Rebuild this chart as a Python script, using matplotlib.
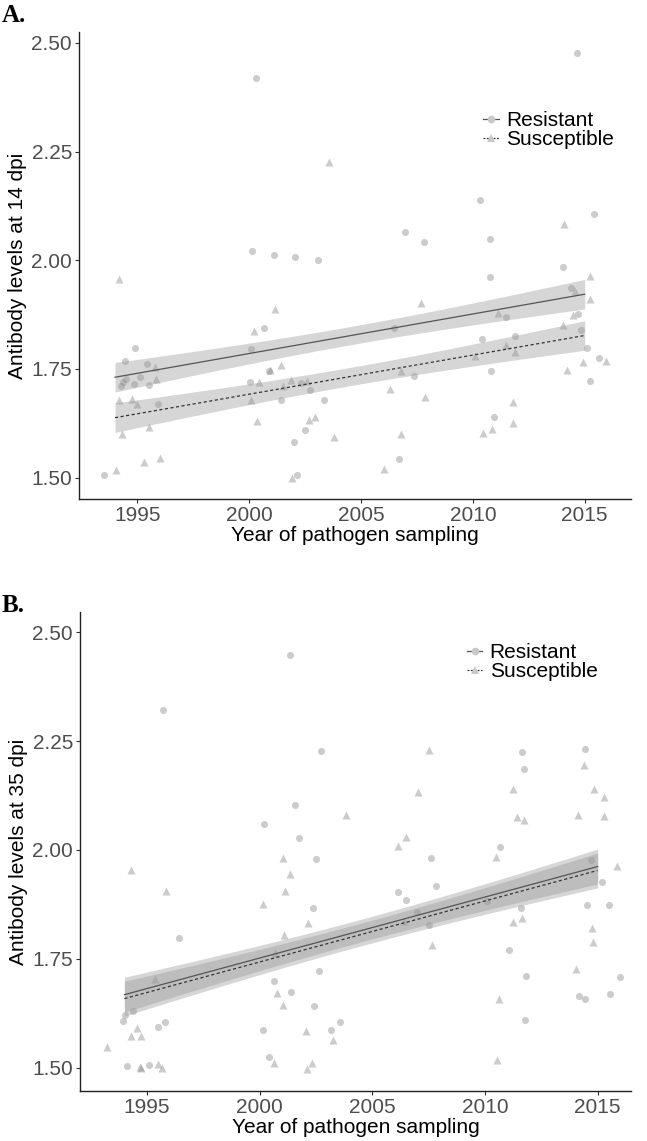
import numpy as np
import matplotlib.pyplot as plt
from matplotlib.lines import Line2D

plt.rcParams['font.family'] = ['Liberation Sans', 'DejaVu Sans']

# ---- panel A: antibody levels at 14 dpi ----
res_a_year = [2000.30, 2000.13, 2001.10, 2002.04, 2003.08, 2014.64, 2010.33, 2015.43, 2006.95, 2007.82,
              2010.75, 2014.02, 2010.75, 2000.66, 1994.91, 2000.08, 1994.44, 1995.45, 1994.49, 1994.35,
              1994.28, 1995.13, 1994.87, 1995.54, 1995.94, 1993.51, 2000.89, 2000.05, 2002.30, 2002.70,
              2001.44, 2003.33, 2002.50, 2001.99, 2002.14, 2014.40, 2011.48, 2014.70, 2006.49, 2014.82,
              2010.40, 2011.88, 2015.09, 2015.63, 2015.24, 2010.80, 2007.37, 2010.96, 2006.70]
res_a_val = [2.420, 2.021, 2.011, 2.008, 2.001, 2.476, 2.139, 2.106, 2.065, 2.042,
             2.048, 1.985, 1.962, 1.844, 1.798, 1.795, 1.768, 1.761, 1.728, 1.719,
             1.711, 1.732, 1.716, 1.713, 1.669, 1.507, 1.746, 1.719, 1.717, 1.702,
             1.679, 1.678, 1.610, 1.582, 1.506, 1.936, 1.870, 1.877, 1.844, 1.839,
             1.819, 1.827, 1.798, 1.775, 1.723, 1.745, 1.733, 1.640, 1.544]
sus_a_year = [2003.58, 1994.17, 2014.09, 2015.24, 2001.17, 2000.22, 1995.80, 1995.84, 1994.20, 1994.78,
              1994.97, 1995.54, 1994.30, 1996.00, 1995.30, 1994.05, 2000.92, 2001.44, 2000.43, 2000.07,
              2001.88, 2002.60, 2001.50, 2000.34, 2002.68, 2002.96, 2003.80, 2001.93, 2007.70, 2014.58,
              2015.25, 2011.13, 2014.46, 2014.02, 2011.48, 2011.90, 2010.11, 2015.94, 2014.91, 2014.22,
              2006.78, 2006.30, 2007.88, 2011.78, 2011.80, 2010.86, 2010.44, 2006.78, 2006.03]
sus_a_val = [2.225, 1.957, 2.083, 1.965, 1.888, 1.837, 1.755, 1.726, 1.678, 1.681,
             1.670, 1.616, 1.600, 1.546, 1.535, 1.517, 1.748, 1.760, 1.719, 1.679,
             1.724, 1.723, 1.712, 1.631, 1.633, 1.640, 1.594, 1.500, 1.902, 1.930,
             1.912, 1.878, 1.875, 1.851, 1.805, 1.790, 1.780, 1.768, 1.765, 1.748,
             1.745, 1.704, 1.686, 1.673, 1.625, 1.612, 1.602, 1.600, 1.520]

# ---- panel B: antibody levels at 35 dpi ----
res_b_year = [2001.35, 1995.70, 2002.74, 2001.57, 2000.20, 2001.75, 2011.63, 2014.44, 2011.72, 2010.67,
              1996.44, 1994.04, 1994.40, 1993.93, 1995.51, 1995.79, 1994.12, 1995.08, 2002.50, 2002.39,
              2002.64, 2000.66, 2001.38, 2002.42, 2003.57, 2000.17, 2003.18, 2000.42, 2007.59, 2014.69,
              2015.19, 2007.82, 2006.13, 2006.51, 2010.08, 2014.51, 2015.52, 2011.59, 2007.00, 2007.53,
              2011.07, 2011.82, 2016.00, 2014.19, 2014.45, 2015.55, 2011.79]
res_b_val = [2.447, 2.322, 2.228, 2.103, 2.060, 2.027, 2.225, 2.232, 2.186, 2.006,
             1.799, 1.621, 1.630, 1.608, 1.594, 1.605, 1.505, 1.506, 1.980, 1.866,
             1.723, 1.699, 1.674, 1.642, 1.606, 1.587, 1.586, 1.524, 1.981, 1.978,
             1.926, 1.917, 1.903, 1.885, 1.882, 1.873, 1.874, 1.866, 1.857, 1.827,
             1.770, 1.710, 1.709, 1.666, 1.657, 1.670, 1.611]
sus_b_year = [2003.84, 2007.53, 2014.38, 2007.03, 2011.23, 2014.85, 2015.30, 2011.41, 2011.75, 2014.14,
              2015.30, 2006.51, 2006.16, 1994.28, 1995.84, 1995.35, 1994.58, 1994.31, 1994.75, 1993.22,
              1994.75, 1994.70, 1995.48, 1995.69, 2001.04, 2001.36, 2001.12, 2000.14, 2002.14, 2001.09,
              2000.70, 2000.77, 2001.04, 2002.05, 2003.26, 2000.64, 2002.34, 2002.09, 2010.49, 2015.85,
              2006.42, 2011.26, 2011.66, 2014.74, 2014.78, 2007.66, 2014.05, 2010.64, 2010.54]
sus_b_val = [2.080, 2.229, 2.195, 2.133, 2.139, 2.141, 2.121, 2.076, 2.069, 2.081,
             2.079, 2.029, 2.010, 1.953, 1.905, 1.704, 1.591, 1.574, 1.573, 1.549,
             1.500, 1.502, 1.509, 1.500, 1.982, 1.944, 1.907, 1.877, 1.832, 1.805,
             1.764, 1.672, 1.645, 1.584, 1.565, 1.511, 1.511, 1.498, 1.985, 1.964,
             1.836, 1.835, 1.843, 1.820, 1.789, 1.782, 1.727, 1.657, 1.517]

# fitted lines: ends at first/last sampling year, CI half width at ends and middle
fit_years = [1994, 2015]
fit_a_res = [1.731, 1.922]
fit_a_sus = [1.638, 1.827]
fit_b_res = [1.668, 1.962]
fit_b_sus = [1.659, 1.953]
ci_a = [0.034, 0.021]
ci_b = [0.040, 0.026]

x_ticks = [1995, 2000, 2005, 2010, 2015]
y_ticks = [1.50, 1.75, 2.00, 2.25, 2.50]

FS = 15
tick_col = '#4d4d4d'


def band(ax, fit, ci):
    xs = np.linspace(fit_years[0], fit_years[1], 80)
    ys = np.interp(xs, fit_years, fit)
    mid = (fit_years[0] + fit_years[1]) / 2
    t = (xs - mid) / (fit_years[1] - mid)
    hw = np.sqrt(ci[1]**2 + (ci[0]**2 - ci[1]**2) * t**2)
    ax.fill_between(xs, ys - hw, ys + hw, color='#999999', alpha=0.4, lw=0, zorder=2)


def panel(ax, rx, ry, sx, sy, fr, fs, ci, ylabel, xlim, ylim):
    ax.scatter(rx, ry, s=26, marker='o', color='#808080', alpha=0.4, lw=0, zorder=1)
    ax.scatter(sx, sy, s=34, marker='^', color='#808080', alpha=0.4, lw=0, zorder=1)
    band(ax, fr, ci)
    band(ax, fs, ci)
    ax.plot(fit_years, fr, color='#555555', lw=0.9, ls='-', zorder=3)
    ax.plot(fit_years, fs, color='#333333', lw=0.9, ls=(0, (2.5, 2)), zorder=3)
    ax.set_xlim(*xlim)
    ax.set_ylim(*ylim)
    ax.set_xticks(x_ticks)
    ax.set_yticks(y_ticks)
    ax.set_yticklabels(['%.2f' % v for v in y_ticks])
    for s in ['top', 'right']:
        ax.spines[s].set_visible(False)
    for s in ['left', 'bottom']:
        ax.spines[s].set_linewidth(1.0)
        ax.spines[s].set_color('#222222')
    ax.tick_params(length=3, width=0.8, color='#333333', labelsize=FS, labelcolor=tick_col, pad=2)
    ax.set_xlabel('Year of pathogen sampling', fontsize=FS, labelpad=1)
    ax.set_ylabel(ylabel, fontsize=FS, labelpad=3)


def add_legend(ax, anchor):
    h1 = Line2D([0], [0], color='#555555', lw=0.9, marker='o', markersize=5.5,
                markerfacecolor='#c8c8c8', markeredgewidth=0)
    h2 = Line2D([0], [0], color='#333333', lw=0.9, ls=(0, (1.5, 1.2)), marker='^', markersize=6,
                markerfacecolor='#c8c8c8', markeredgewidth=0)
    ax.legend([h1, h2], ['Resistant', 'Susceptible'], loc='upper left', bbox_to_anchor=anchor,
              frameon=False, fontsize=FS, handlelength=0.75, handletextpad=0.35,
              labelspacing=0.0, borderpad=0, borderaxespad=0)


fig = plt.figure(figsize=(6.47, 11.41), dpi=100)

ax_a = fig.add_axes([79 / 647, 1 - 499 / 1141, 552 / 647, 467 / 1141])
panel(ax_a, res_a_year, res_a_val, sus_a_year, sus_a_val, fit_a_res, fit_a_sus, ci_a,
      'Antibody levels at 14 dpi', (1992.39, 2017.07), (1.451, 2.525))
add_legend(ax_a, (0.732, 0.831))

ax_b = fig.add_axes([80 / 647, 1 - 1091 / 1141, 551 / 647, 479 / 1141])
panel(ax_b, res_b_year, res_b_val, sus_b_year, sus_b_val, fit_b_res, fit_b_sus, ci_b,
      'Antibody levels at 35 dpi', (1992.03, 2016.48), (1.447, 2.546))
add_legend(ax_b, (0.702, 0.935))

fig.text(2 / 647, 1 - 15 / 1141, 'A.', fontsize=18, fontweight='bold', family='Liberation Serif',
         ha='left', va='center')
fig.text(2 / 647, 1 - 606 / 1141, 'B.', fontsize=18, fontweight='bold', family='Liberation Serif',
         ha='left', va='center')

fig.savefig('out.png', dpi=100)
